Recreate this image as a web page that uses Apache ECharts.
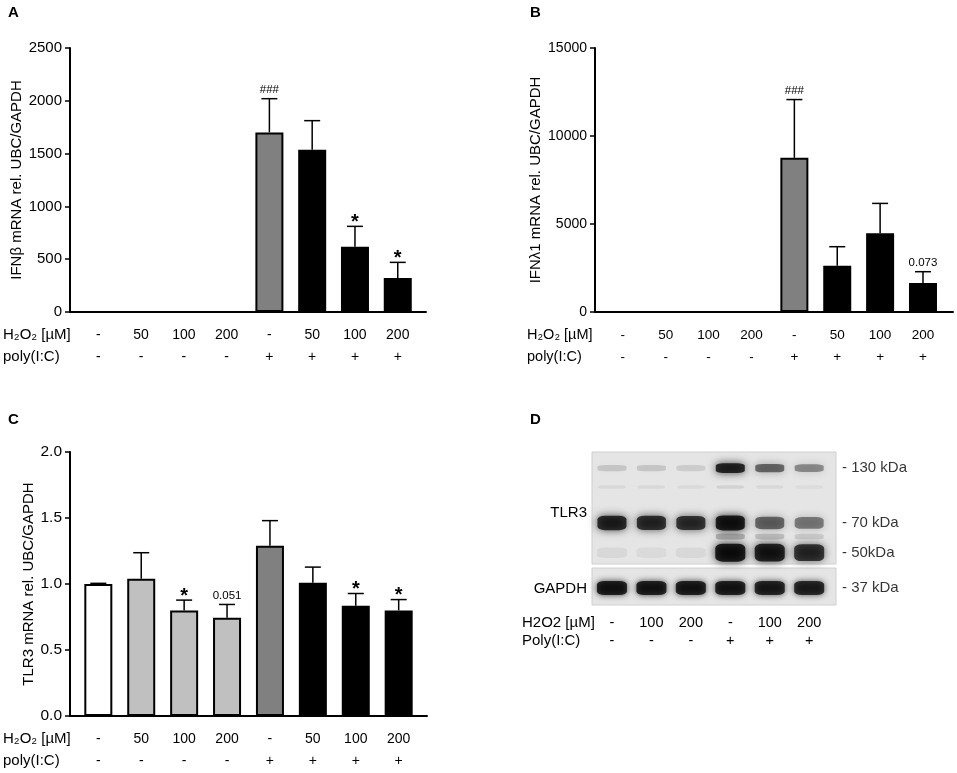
<!DOCTYPE html>
<html>
<head>
<meta charset="utf-8">
<script src="https://cdn.jsdelivr.net/npm/echarts@6/dist/echarts.min.js"></script>
<style>
html, body { margin: 0; padding: 0; background: #fff; }
#main { width: 957px; height: 773px; }
</style>
</head>
<body>
<div id="main"></div>
<script>
var FONT = '"Liberation Sans", Arial, Helvetica, sans-serif';

// treatment rows under each bar chart
var h2o2 = ['-', '50', '100', '200', '-', '50', '100', '200'];
var poly = ['-', '-', '-', '-', '+', '+', '+', '+'];
var barColors = ['#ffffff', '#c0c0c0', '#c0c0c0', '#c0c0c0', '#808080', '#000000', '#000000', '#000000'];

// A - IFNb
var ifnbMean = [0, 0, 0, 0, 1700, 1537, 618, 322];
var ifnbSem = [0, 0, 0, 0, 320, 275, 193, 148];
var ifnbMark = ['', '', '', '', '###', '', '*', '*'];

// B - IFNl1
var ifnlMean = [0, 0, 0, 0, 8760, 2630, 4470, 1650];
var ifnlSem = [0, 0, 0, 0, 3310, 1080, 1700, 640];
var ifnlMark = ['', '', '', '', '###', '', '', '0.073'];

// C - TLR3
var tlr3Mean = [1.0, 1.04, 0.80, 0.745, 1.29, 1.01, 0.835, 0.80];
var tlr3Sem = [0.005, 0.197, 0.078, 0.10, 0.19, 0.118, 0.093, 0.082];
var tlr3Mark = ['', '', '*', '0.051', '', '', '*', '*'];

// D - western blot, band intensity 0..1 per lane
var blotH2o2 = ['-', '100', '200', '-', '100', '200'];
var blotPoly = ['-', '-', '-', '+', '+', '+'];
var band130 = [0.16, 0.16, 0.13, 0.95, 0.62, 0.45];
var band105 = [0.07, 0.07, 0.06, 0.10, 0.07, 0.05];
var band70 = [0.92, 0.88, 0.86, 1.0, 0.62, 0.52];
var band60 = [0.0, 0.0, 0.0, 0.28, 0.2, 0.14];
var band50 = [0.07, 0.06, 0.07, 1.0, 0.96, 0.86];
var bandGapdh = [0.96, 0.95, 0.95, 0.95, 0.92, 0.9];
var markers = [[130, '- 130 kDa'], [70, '- 70 kDa'], [50, '- 50kDa']];

var myChart = echarts.init(document.getElementById('main'));

function txt(s, size, extra) {
    var o = { text: s, fontSize: size, fontFamily: FONT, fill: '#000' };
    for (var k in extra) o[k] = extra[k];
    return o;
}

function errorItem(marks, labelSize) {
    return function (params, api) {
        var i = params.dataIndex;
        var x = api.value(0), v = api.value(1), e = api.value(2);
        var base = api.coord([x, v]);
        var top = api.coord([x, v + e]);
        var zero = api.coord([x, 0]);
        var kids = [];
        if (e > 0) {
            kids.push({ type: 'line', shape: { x1: base[0], y1: base[1], x2: top[0], y2: top[1] }, style: { stroke: '#000', lineWidth: 1.5 } });
            kids.push({ type: 'line', shape: { x1: top[0] - 8, y1: top[1], x2: top[0] + 8, y2: top[1] }, style: { stroke: '#000', lineWidth: 1.5 } });
        }
        var m = marks[i];
        if (m) {
            var star = m === '*';
            kids.push({ type: 'text', x: top[0], y: top[1] - (star ? 4 : 9),
                style: txt(m, star ? 20 : 11.5, { align: 'center', verticalAlign: 'middle', fontWeight: star ? 'bold' : 'normal' }) });
        }
        kids.push({ type: 'text', x: zero[0], y: zero[1] + 23, style: txt(h2o2[i], labelSize, { align: 'center', verticalAlign: 'middle' }) });
        kids.push({ type: 'text', x: zero[0], y: zero[1] + 45, style: txt(poly[i], labelSize, { align: 'center', verticalAlign: 'middle' }) });
        return { type: 'group', children: kids };
    };
}

function barSeries(idx, mean, sem, marks, labelSize) {
    return [{
        type: 'bar',
        xAxisIndex: idx,
        yAxisIndex: idx,
        barWidth: 28,
        silent: true,
        data: mean.map(function (v, i) {
            return { value: [i, v], itemStyle: { color: barColors[i], borderColor: '#000', borderWidth: 2 } };
        })
    }, {
        type: 'custom',
        xAxisIndex: idx,
        yAxisIndex: idx,
        z: 3,
        silent: true,
        renderItem: errorItem(marks, labelSize),
        data: mean.map(function (v, i) { return [i, v, sem[i]]; })
    }];
}

function xBar(idx, min, max) {
    return {
        gridIndex: idx, type: 'value', min: min, max: max,
        axisLine: { show: true, onZero: false, lineStyle: { color: '#000', width: 2 } },
        axisTick: { show: false }, axisLabel: { show: false }, splitLine: { show: false }
    };
}

function yBar(idx, max, interval, name, gap, size, fmt) {
    return {
        gridIndex: idx, type: 'value', min: 0, max: max, interval: interval,
        axisLine: { show: true, onZero: false, lineStyle: { color: '#000', width: 2 } },
        axisTick: { show: true, length: 5, lineStyle: { color: '#000', width: 1.5 } },
        axisLabel: { color: '#000', fontSize: size, margin: 8, fontFamily: FONT, formatter: fmt || function (v) { return String(v); } },
        splitLine: { show: false },
        name: name, nameLocation: 'middle', nameGap: gap,
        nameTextStyle: { color: '#000', fontSize: 15, fontFamily: FONT }
    };
}

function hidden(idx, type, min, max) {
    return { gridIndex: idx, type: type, min: min, max: max, show: false, axisLine: { show: false, onZero: false }, splitLine: { show: false } };
}

function bandSeries(kda, values, w, h) {
    return {
        type: 'scatter', xAxisIndex: 3, yAxisIndex: 3, symbol: 'roundRect', silent: true,
        symbolSize: function (val) { return [w, h * (0.55 + 0.45 * val[2])]; },
        data: values.map(function (a, i) {
            return { value: [i, kda, a], itemStyle: { color: 'rgba(0,0,0,' + a + ')', shadowColor: 'rgba(0,0,0,' + a + ')', shadowBlur: 9 } };
        })
    };
}

var blotMin = -0.506, blotMax = 5.68;

var series = []
    .concat(barSeries(0, ifnbMean, ifnbSem, ifnbMark, 14))
    .concat(barSeries(1, ifnlMean, ifnlSem, ifnlMark, 13.5))
    .concat(barSeries(2, tlr3Mean, tlr3Sem, tlr3Mark, 14));

series.push(bandSeries(130, band130, 29, 10));
series.push(bandSeries(105, band105, 27, 6));
series.push(bandSeries(70, band70, 29, 15));
series.push(bandSeries(60, band60, 29, 9));
series.push(bandSeries(50, band50, 30, 18));
series.push({
    type: 'scatter', xAxisIndex: 4, yAxisIndex: 4, symbol: 'roundRect', silent: true,
    symbolSize: [30, 14],
    data: bandGapdh.map(function (a, i) {
        return { value: [i, 0.46], itemStyle: { color: 'rgba(0,0,0,' + a + ')', shadowColor: 'rgba(0,0,0,' + a + ')', shadowBlur: 6 } };
    })
});
// marker labels to the right of the blot
series.push({
    type: 'scatter', xAxisIndex: 3, yAxisIndex: 3, symbolSize: 0, silent: true, clip: false,
    data: markers.map(function (m) { return { value: [blotMax, m[0]], name: m[1] }; }),
    label: { show: true, position: 'right', distance: 6, formatter: '{b}', color: '#000', fontSize: 15, fontFamily: FONT }
});
series.push({
    type: 'scatter', xAxisIndex: 4, yAxisIndex: 4, symbolSize: 0, silent: true, clip: false,
    data: [{ value: [blotMax, 0.46], name: '- 37 kDa' }],
    label: { show: true, position: 'right', distance: 6, formatter: '{b}', color: '#000', fontSize: 15, fontFamily: FONT }
});
// lane treatment labels under the blot
series.push({
    type: 'custom', xAxisIndex: 4, yAxisIndex: 4, silent: true,
    renderItem: function (params, api) {
        var i = params.dataIndex;
        var p = api.coord([api.value(0), 0]);
        return { type: 'group', children: [
            { type: 'text', x: p[0], y: p[1] + 18, style: txt(blotH2o2[i], 14.5, { align: 'center', verticalAlign: 'middle' }) },
            { type: 'text', x: p[0], y: p[1] + 36, style: txt(blotPoly[i], 14.5, { align: 'center', verticalAlign: 'middle' }) }
        ] };
    },
    data: blotH2o2.map(function (s, i) { return [i, 0]; })
});

var letter = { fontSize: 15, fontWeight: 'bold', fontFamily: FONT, fill: '#000' };
var graphics = [];
[['A', 8, 5], ['B', 530, 5], ['C', 8, 412], ['D', 530, 412]].forEach(function (l) {
    graphics.push({ type: 'text', left: l[1], top: l[2], silent: true, style: Object.assign({}, letter, { text: l[0] }) });
});
function rowHead(x, y, s, size) {
    return { type: 'text', x: x, y: y, silent: true, style: txt(s, size, { verticalAlign: 'middle' }) };
}
graphics.push(rowHead(3, 335, 'H\u2082O\u2082 [\u00b5M]', 15));
graphics.push(rowHead(3, 357, 'poly(I:C)', 15));
graphics.push(rowHead(527, 335, 'H\u2082O\u2082 [\u00b5M]', 14.5));
graphics.push(rowHead(527, 357, 'poly(I:C)', 14.5));
graphics.push(rowHead(3, 739, 'H\u2082O\u2082 [\u00b5M]', 15));
graphics.push(rowHead(3, 761, 'poly(I:C)', 15));
graphics.push(rowHead(522, 623, 'H2O2 [\u00b5M]', 15));
graphics.push(rowHead(522, 641, 'Poly(I:C)', 15));
graphics.push({ type: 'text', x: 587, y: 513, silent: true, style: txt('TLR3', 15, { align: 'right', verticalAlign: 'middle' }) });
graphics.push({ type: 'text', x: 587, y: 589, silent: true, style: txt('GAPDH', 15, { align: 'right', verticalAlign: 'middle' }) });

option = {
    backgroundColor: '#ffffff',
    animation: false,
    grid: [
        { left: 70, top: 48, width: 356, height: 264 },
        { left: 595, top: 48, width: 358, height: 264 },
        { left: 70, top: 452, width: 357, height: 264 },
        { left: 592, top: 452, width: 244, height: 112, show: true, backgroundColor: '#e5e5e5', borderColor: '#d0d0d0', borderWidth: 1 },
        { left: 592, top: 568, width: 244, height: 37, show: true, backgroundColor: '#e5e5e5', borderColor: '#d0d0d0', borderWidth: 1 }
    ],
    xAxis: [
        xBar(0, -0.66, 7.66),
        xBar(1, -0.65, 7.7),
        xBar(2, -0.66, 7.66),
        hidden(3, 'value', blotMin, blotMax),
        hidden(4, 'value', blotMin, blotMax)
    ],
    yAxis: [
        yBar(0, 2500, 500, 'IFN\u03b2 mRNA rel. UBC/GAPDH', 45, 15),
        yBar(1, 15000, 5000, 'IFN\u03bb1 mRNA rel. UBC/GAPDH', 52, 14),
        yBar(2, 2, 0.5, 'TLR3 mRNA rel. UBC/GAPDH', 27, 15.5, function (v) { return v.toFixed(1); }),
        hidden(3, 'log', 44, 156),
        hidden(4, 'value', 0, 1)
    ],
    graphic: graphics,
    series: series
};
if (option && typeof option === "object") {
    myChart.setOption(option, true);
}
</script>
</body>
</html>
